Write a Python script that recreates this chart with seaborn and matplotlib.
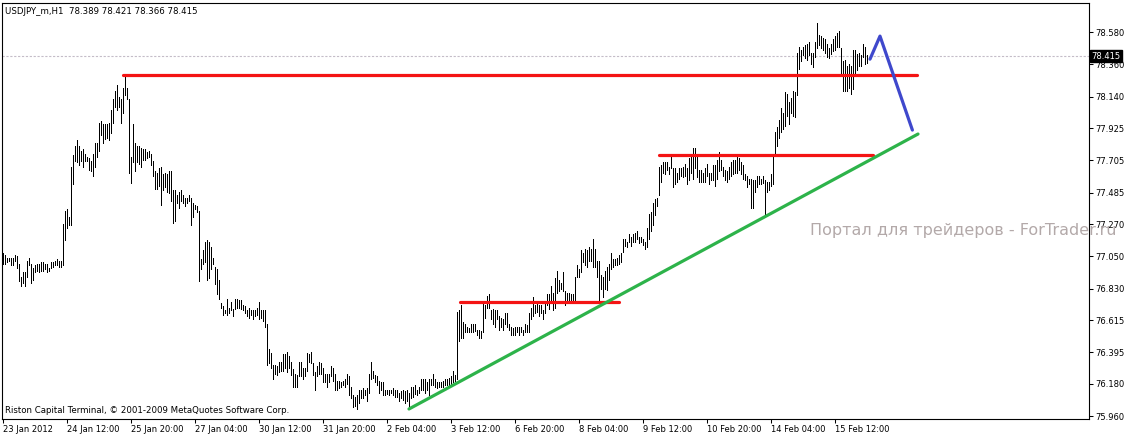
import numpy as np
import pandas as pd
import matplotlib
matplotlib.use("Agg")
import matplotlib.pyplot as plt
import matplotlib.transforms as mtrans
import seaborn as sns

# ---------------- data (USDJPY_m, H1 bars: high / low) ----------------
highs = [
    77.07, 77.06, 77.04, 77.04, 77.04, 77.04, 77.06, 77.05, 77.00, 76.91,
    76.94, 76.94, 77.02, 77.04, 77.00, 76.97, 76.99, 77.00, 77.00, 77.01,
    77.01, 77.00, 77.00, 76.97, 77.01, 77.01, 77.02, 77.03, 77.02, 77.02,
    77.27, 77.36, 77.37, 77.32, 77.66, 77.74, 77.80, 77.84, 77.80, 77.77,
    77.78, 77.75, 77.73, 77.72, 77.70, 77.75, 77.82, 77.82, 77.96, 77.97,
    77.95, 77.95, 77.95, 77.96, 78.05, 78.12, 78.18, 78.22, 78.14, 78.12,
    78.20, 78.27, 78.20, 78.12, 77.73, 77.95, 77.82, 77.80, 77.80, 77.79,
    77.78, 77.78, 77.76, 77.77, 77.75, 77.70, 77.63, 77.62, 77.65, 77.66,
    77.61, 77.62, 77.61, 77.63, 77.63, 77.50, 77.50, 77.47, 77.49, 77.50,
    77.47, 77.45, 77.45, 77.47, 77.45, 77.41, 77.40, 77.39, 77.36, 77.03,
    77.09, 77.15, 77.16, 77.15, 77.11, 77.04, 76.98, 76.96, 76.89, 76.73,
    76.71, 76.68, 76.76, 76.70, 76.74, 76.69, 76.76, 76.76, 76.75, 76.75,
    76.72, 76.71, 76.68, 76.70, 76.68, 76.68, 76.68, 76.70, 76.74, 76.68,
    76.68, 76.68, 76.59, 76.42, 76.39, 76.31, 76.31, 76.30, 76.33, 76.33,
    76.38, 76.38, 76.40, 76.37, 76.33, 76.28, 76.25, 76.24, 76.33, 76.33,
    76.29, 76.29, 76.39, 76.38, 76.40, 76.32, 76.26, 76.30, 76.33, 76.32,
    76.29, 76.25, 76.25, 76.25, 76.30, 76.29, 76.25, 76.20, 76.20, 76.19,
    76.20, 76.21, 76.25, 76.23, 76.16, 76.10, 76.09, 76.10, 76.14, 76.14,
    76.15, 76.14, 76.15, 76.25, 76.33, 76.27, 76.24, 76.23, 76.20, 76.19,
    76.19, 76.14, 76.14, 76.14, 76.14, 76.15, 76.14, 76.14, 76.12, 76.13,
    76.14, 76.13, 76.14, 76.12, 76.16, 76.16, 76.17, 76.14, 76.16, 76.21,
    76.21, 76.21, 76.19, 76.21, 76.21, 76.25, 76.21, 76.19, 76.19, 76.19,
    76.20, 76.21, 76.21, 76.22, 76.23, 76.27, 76.24, 76.67, 76.68, 76.72,
    76.60, 76.59, 76.57, 76.56, 76.59, 76.59, 76.59, 76.55, 76.55, 76.54,
    76.73, 76.72, 76.78, 76.79, 76.68, 76.69, 76.68, 76.68, 76.64, 76.63,
    76.62, 76.66, 76.66, 76.59, 76.57, 76.56, 76.57, 76.57, 76.57, 76.57,
    76.55, 76.59, 76.58, 76.66, 76.70, 76.77, 76.72, 76.74, 76.72, 76.72,
    76.68, 76.74, 76.79, 76.79, 76.85, 76.80, 76.90, 76.95, 76.89, 76.87,
    76.94, 76.81, 76.80, 76.80, 76.79, 76.79, 76.91, 76.99, 76.96, 77.09,
    77.07, 77.10, 77.09, 77.11, 77.10, 77.17, 77.10, 77.02, 77.02, 76.92,
    76.91, 76.95, 76.98, 77.00, 77.07, 77.03, 77.03, 77.04, 77.06, 77.07,
    77.17, 77.17, 77.15, 77.20, 77.18, 77.20, 77.21, 77.22, 77.18, 77.18,
    77.17, 77.15, 77.24, 77.34, 77.35, 77.41, 77.44, 77.45, 77.66, 77.67,
    77.69, 77.69, 77.69, 77.66, 77.73, 77.65, 77.65, 77.62, 77.65, 77.65,
    77.66, 77.68, 77.65, 77.72, 77.73, 77.79, 77.79, 77.73, 77.64, 77.64,
    77.62, 77.65, 77.68, 77.62, 77.62, 77.67, 77.67, 77.71, 77.76, 77.71,
    77.66, 77.64, 77.63, 77.66, 77.69, 77.71, 77.71, 77.73, 77.72, 77.69,
    77.67, 77.61, 77.60, 77.58, 77.58, 77.57, 77.57, 77.60, 77.60, 77.58,
    77.60, 77.57, 77.56, 77.56, 77.61, 77.74, 77.90, 77.93, 77.98, 78.06,
    78.03, 78.17, 78.16, 78.10, 78.13, 78.18, 78.17, 78.44, 78.48, 78.46,
    78.48, 78.49, 78.50, 78.51, 78.44, 78.44, 78.51, 78.64, 78.56, 78.55,
    78.54, 78.53, 78.50, 78.47, 78.50, 78.53, 78.55, 78.57, 78.59, 78.47,
    78.38, 78.39, 78.35, 78.36, 78.35, 78.46, 78.46, 78.43, 78.44, 78.42,
    78.50, 78.48, 78.42,
]
lows = [
    77.00, 77.00, 77.01, 77.02, 76.99, 76.99, 77.02, 76.97, 76.88, 76.85,
    76.87, 76.85, 76.91, 76.99, 76.87, 76.89, 76.94, 76.95, 76.94, 76.95,
    76.95, 76.96, 76.94, 76.95, 76.97, 76.98, 76.99, 76.99, 76.98, 76.98,
    76.99, 77.16, 77.24, 77.26, 77.26, 77.54, 77.70, 77.69, 77.67, 77.70,
    77.66, 77.70, 77.70, 77.64, 77.63, 77.60, 77.66, 77.73, 77.77, 77.88,
    77.82, 77.85, 77.86, 77.84, 77.89, 77.96, 78.07, 78.05, 78.07, 77.96,
    78.03, 78.15, 78.12, 77.62, 77.55, 77.69, 77.63, 77.69, 77.68, 77.66,
    77.71, 77.71, 77.72, 77.73, 77.67, 77.60, 77.51, 77.51, 77.53, 77.40,
    77.50, 77.52, 77.49, 77.48, 77.43, 77.28, 77.29, 77.41, 77.38, 77.43,
    77.41, 77.39, 77.41, 77.43, 77.26, 77.32, 77.37, 77.35, 76.88, 76.96,
    77.00, 77.01, 76.89, 76.90, 76.96, 77.00, 76.86, 76.79, 76.76, 76.70,
    76.65, 76.66, 76.65, 76.66, 76.68, 76.64, 76.69, 76.70, 76.70, 76.69,
    76.68, 76.66, 76.64, 76.63, 76.65, 76.62, 76.64, 76.65, 76.62, 76.63,
    76.61, 76.57, 76.31, 76.32, 76.29, 76.21, 76.25, 76.24, 76.26, 76.27,
    76.27, 76.29, 76.26, 76.29, 76.24, 76.16, 76.16, 76.16, 76.23, 76.23,
    76.21, 76.23, 76.27, 76.33, 76.32, 76.24, 76.14, 76.23, 76.25, 76.25,
    76.19, 76.19, 76.16, 76.19, 76.23, 76.20, 76.14, 76.14, 76.15, 76.16,
    76.17, 76.16, 76.18, 76.10, 76.08, 76.02, 76.03, 76.01, 76.05, 76.08,
    76.08, 76.10, 76.06, 76.12, 76.21, 76.22, 76.19, 76.17, 76.12, 76.14,
    76.10, 76.10, 76.11, 76.10, 76.12, 76.10, 76.09, 76.09, 76.06, 76.08,
    76.07, 76.05, 76.06, 76.03, 76.08, 76.09, 76.11, 76.10, 76.12, 76.14,
    76.14, 76.12, 76.14, 76.10, 76.17, 76.17, 76.16, 76.15, 76.16, 76.16,
    76.16, 76.17, 76.17, 76.17, 76.18, 76.19, 76.20, 76.21, 76.47, 76.49,
    76.49, 76.53, 76.53, 76.53, 76.53, 76.53, 76.54, 76.51, 76.49, 76.49,
    76.53, 76.63, 76.70, 76.70, 76.62, 76.59, 76.57, 76.62, 76.55, 76.57,
    76.55, 76.59, 76.57, 76.55, 76.51, 76.51, 76.51, 76.53, 76.51, 76.53,
    76.51, 76.53, 76.53, 76.53, 76.62, 76.64, 76.66, 76.67, 76.64, 76.66,
    76.62, 76.66, 76.72, 76.69, 76.73, 76.68, 76.70, 76.80, 76.81, 76.83,
    76.81, 76.72, 76.75, 76.74, 76.74, 76.75, 76.74, 76.91, 76.91, 76.94,
    77.01, 76.99, 76.98, 77.02, 77.02, 76.98, 76.98, 76.91, 76.73, 76.83,
    76.77, 76.83, 76.82, 76.89, 76.96, 76.98, 76.99, 76.99, 77.00, 77.01,
    77.08, 77.12, 77.11, 77.15, 77.12, 77.15, 77.15, 77.17, 77.14, 77.15,
    77.13, 77.10, 77.11, 77.17, 77.22, 77.26, 77.33, 77.39, 77.47, 77.56,
    77.62, 77.61, 77.64, 77.61, 77.65, 77.52, 77.54, 77.56, 77.58, 77.60,
    77.59, 77.60, 77.54, 77.57, 77.62, 77.58, 77.65, 77.59, 77.56, 77.56,
    77.56, 77.56, 77.60, 77.54, 77.57, 77.57, 77.53, 77.58, 77.63, 77.64,
    77.60, 77.57, 77.56, 77.58, 77.60, 77.61, 77.62, 77.62, 77.64, 77.61,
    77.58, 77.57, 77.52, 77.54, 77.38, 77.38, 77.49, 77.52, 77.54, 77.54,
    77.55, 77.34, 77.49, 77.50, 77.53, 77.54, 77.74, 77.80, 77.86, 77.90,
    77.92, 77.94, 78.01, 77.95, 78.03, 78.01, 78.00, 78.15, 78.33, 78.38,
    78.42, 78.40, 78.39, 78.42, 78.36, 78.34, 78.41, 78.47, 78.49, 78.47,
    78.46, 78.44, 78.41, 78.40, 78.43, 78.45, 78.46, 78.48, 78.48, 78.29,
    78.18, 78.18, 78.18, 78.20, 78.16, 78.19, 78.29, 78.32, 78.35, 78.35,
    78.41, 78.36, 78.37,
]

# drawn analysis objects (bar index, price)
res_top_x = [60.2, 457.0]
res_top_y = [78.286, 78.286]
res_mid_x = [328.0, 434.8]
res_mid_y = [77.740, 77.740]
res_low_x = [228.5, 308.2]
res_low_y = [76.735, 76.735]
trend_x = [203.0, 457.5]
trend_y = [76.008, 77.884]
proj_x = [433.5, 438.5, 454.7]
proj_y = [78.395, 78.552, 77.911]

last_price = 78.415
title_text = "USDJPY_m,H1  78.389 78.421 78.366 78.415"

xtick_bars = [0, 32, 64, 96, 128, 160, 192, 224, 256, 288, 320, 352, 384, 416]
xtick_labels = ["23 Jan 2012", "24 Jan 12:00", "25 Jan 20:00", "27 Jan 04:00",
                "30 Jan 12:00", "31 Jan 20:00", "2 Feb 04:00", "3 Feb 12:00",
                "6 Feb 20:00", "8 Feb 04:00", "9 Feb 12:00", "10 Feb 20:00",
                "14 Feb 04:00", "15 Feb 12:00"]
ytick_values = [78.580, 78.360, 78.140, 77.925, 77.705, 77.485, 77.270,
                77.050, 76.830, 76.615, 76.395, 76.180, 75.960]
ytick_labels = ["78.580", "78.360", "78.140", "77.925", "77.705", "77.485",
                "77.270", "77.050", "76.830", "76.615", "76.395", "76.180",
                "75.960"]

# ---------------- styling ----------------
sns.set_style("white")
plt.rcParams["font.family"] = ["DejaVu Sans"]
FS = 6.0

W, H = 1127, 436
fig = plt.figure(figsize=(W / 100, H / 100), dpi=100)
fig.patch.set_facecolor("white")
ax_l, ax_r, ax_t, ax_b = 2, 1088.5, 3, 418.5
ax = fig.add_axes([ax_l / W, (H - ax_b) / H, (ax_r - ax_l) / W, (ax_b - ax_t) / H])
ax.set_facecolor("white")

n = len(highs)
idx = np.arange(n)
df = pd.DataFrame({
    "bar": np.repeat(idx, 2),
    "price": np.column_stack([lows, highs]).ravel(),
})
sns.lineplot(data=df, x="bar", y="price", units="bar", estimator=None,
             color="black", lw=0.5, ax=ax, legend=False, antialiased=False,
             solid_capstyle="butt")

# bid line
ax.axhline(last_price, color="#c4bcc8", lw=0.8, ls=(0, (2, 1.5)), zorder=1)

line_w = 2.3
for xs, ys, col in [(res_top_x, res_top_y, "#f41414"),
                    (res_mid_x, res_mid_y, "#f41414"),
                    (res_low_x, res_low_y, "#f41414"),
                    (trend_x, trend_y, "#2db34a"),
                    (proj_x, proj_y, "#3f48cc")]:
    sns.lineplot(x=xs, y=ys, color=col, lw=line_w, ax=ax,
                 sort=False, estimator=None, zorder=5)

# axis limits: 2 px per bar
ax.set_xlim(-0.5, -0.5 + (ax_r - ax_l) / 2)
ax.set_ylim(75.943, 78.778)

ax.set_xlabel("")
ax.set_ylabel("")
ax.set_xticks(xtick_bars)
ax.set_xticklabels(xtick_labels, fontsize=FS, ha="left")
ax.yaxis.tick_right()
ax.set_yticks(ytick_values)
ax.set_yticklabels(ytick_labels, fontsize=FS)
ax.tick_params(axis="both", direction="out", length=3, width=0.75,
               color="black", labelcolor="black")
ax.tick_params(axis="x", pad=1.5, bottom=True)
ax.tick_params(axis="y", pad=2, right=True, left=False)
for s in ax.spines.values():
    s.set_visible(True)
    s.set_color("black")
    s.set_linewidth(0.8)

# current price box
trans = mtrans.blended_transform_factory(ax.transAxes, ax.transData)
ax.text(1.0 + 3 / (ax_r - ax_l), last_price, "78.415", transform=trans,
        fontsize=FS, color="white", ha="left", va="center", zorder=20,
        clip_on=False,
        bbox=dict(boxstyle="square,pad=0.2", fc="black", ec="black"))

# texts
fig.text(5 / W, 1 - 12 / H, title_text, fontsize=6.2, color="black",
         ha="left", va="center")
fig.text(5 / W, 1 - 410 / H,
         "Riston Capital Terminal, \u00a9 2001-2009 MetaQuotes Software Corp.",
         fontsize=6.2, color="black", ha="left", va="center")
fig.text(810 / W, 1 - 230 / H, "Портал для трейдеров - ForTrader.ru",
         fontsize=11.5, color="#b3a9a9", ha="left", va="center", zorder=30)

fig.savefig("out.png", dpi=100, facecolor="white")
